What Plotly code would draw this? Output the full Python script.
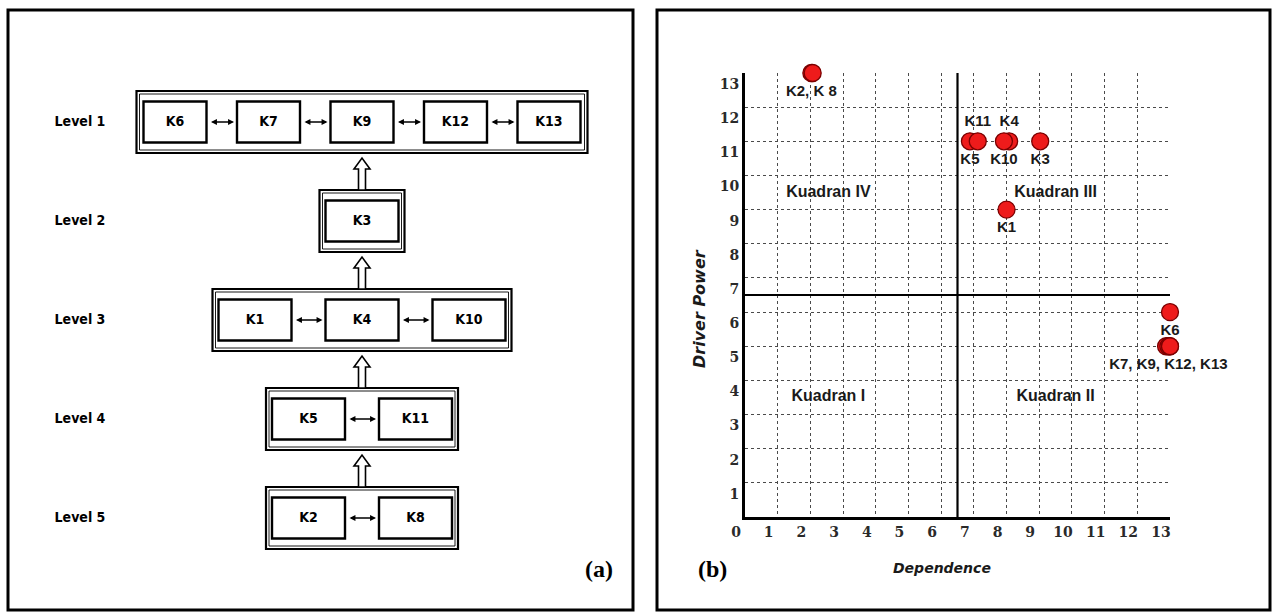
import plotly.graph_objects as go

# ---------------- data ----------------
levels = ["Level 1", "Level 2", "Level 3", "Level 4", "Level 5"]
level_members = [
    ["K6", "K7", "K9", "K12", "K13"],
    ["K3"],
    ["K1", "K4", "K10"],
    ["K5", "K11"],
    ["K2", "K8"],
]

criteria = ["K1", "K2", "K3", "K4", "K5", "K6", "K7", "K8", "K9", "K10", "K11", "K12", "K13"]
dependence = [8.0, 2.03, 9.03, 8.08, 6.88, 13.0, 12.88, 2.07, 12.95, 7.92, 7.12, 13.0, 13.0]
driver_power = [9, 13, 11, 11, 11, 6, 5, 13, 5, 11, 11, 5, 5]
point_text = ["K1", "K2, K 8", "K3", "K4", "K5", "K6", "", "", "K7, K9, K12, K13", "K10", "K11", "", ""]

quadrant_names = ["Kuadran IV", "Kuadran III", "Kuadran I", "Kuadran II"]
quadrant_dep = [2.55, 9.5, 2.55, 9.5]
quadrant_drv = [9.5, 9.5, 3.5, 3.5]
quadrant_split = 6.5

x_ticks = list(range(0, 14))
y_ticks = list(range(1, 14))

# ---------------- layout constants ----------------
W, H = 1273, 612
PX0, PX1 = 745, 1170      # x=0 and x=13 pixel
PY0, PY1 = 517, 73        # y=0 and y=13 pixel

NARROW = "Liberation Sans Narrow, DejaVu Sans Condensed, Liberation Sans, sans-serif"
SANS = "Liberation Sans, Arial, sans-serif"
SERIF = "Liberation Serif, Times New Roman, serif"

text_pos = {"K4": "top center", "K11": "top center"}
positions = [text_pos.get(c, "bottom center") for c in criteria]

fig = go.Figure()

# scatter (b)
fig.add_trace(go.Scatter(
    x=dependence, y=driver_power, mode="markers+text",
    text=point_text, textposition=positions,
    textfont=dict(family=SANS, size=15, color="#1a1a1a", weight="bold"),
    marker=dict(size=17, color="#ee1b1b", line=dict(color="#7a0000", width=1.3)),
    cliponaxis=False, showlegend=False, hoverinfo="skip",
    xaxis="x", yaxis="y",
))
fig.add_trace(go.Scatter(
    x=quadrant_dep, y=quadrant_drv, mode="text", text=quadrant_names,
    textfont=dict(family=SANS, size=16, color="#1a1a1a", weight="bold"),
    showlegend=False, hoverinfo="skip", xaxis="x", yaxis="y",
))

shapes = []
annotations = []

# quadrant lines
shapes.append(dict(type="line", xref="x", yref="y", x0=quadrant_split, x1=quadrant_split,
                   y0=0, y1=13, line=dict(color="black", width=2.2), layer="above"))
shapes.append(dict(type="line", xref="x", yref="y", x0=0, x1=13,
                   y0=quadrant_split, y1=quadrant_split, line=dict(color="black", width=2.2), layer="above"))

# ---------------- diagram (a) on pixel-scaled hidden axes ----------------
cx = 362
level_y0, level_step = 122, 99
box_h = 41
pady = 10.5
outer_boxes = []
lab_x, lab_y, lab_t = [], [], []
for i, members in enumerate(level_members):
    n = len(members)
    bw = 63 if n >= 5 else 73
    pitch = 93.5 if n >= 5 else 107
    padx = 7 if n >= 5 else 6
    cy = level_y0 + i * level_step
    centers = [cx + (j - (n - 1) / 2) * pitch for j in range(n)]
    for j, (c, m) in enumerate(zip(centers, members)):
        shapes.append(dict(type="rect", xref="x2", yref="y2", x0=c - bw / 2, x1=c + bw / 2,
                           y0=cy - box_h / 2, y1=cy + box_h / 2,
                           line=dict(color="black", width=2.4), layer="below"))
        lab_x.append(c); lab_y.append(cy); lab_t.append(m)
        if j < n - 1:
            annotations.append(dict(xref="x2", yref="y2", axref="x2", ayref="y2",
                                    x=centers[j + 1] - bw / 2 - 3, y=cy,
                                    ax=c + bw / 2 + 3, ay=cy, text="", showarrow=True,
                                    arrowside="end+start", arrowhead=2, arrowsize=0.7,
                                    arrowwidth=1.7, arrowcolor="black", standoff=0, startstandoff=0))
    ox0 = centers[0] - bw / 2 - padx
    ox1 = centers[-1] + bw / 2 + padx
    oy0 = cy - box_h / 2 - pady
    oy1 = cy + box_h / 2 + pady
    outer_boxes.append((ox0, ox1, oy0, oy1))
    shapes.append(dict(type="rect", xref="x2", yref="y2", x0=ox0, x1=ox1, y0=oy0, y1=oy1,
                       line=dict(color="black", width=2.2), layer="below"))
    shapes.append(dict(type="rect", xref="x2", yref="y2", x0=ox0 + 3, x1=ox1 - 3, y0=oy0 + 3, y1=oy1 - 3,
                       line=dict(color="black", width=0.9), layer="below"))
    lab_x.append(80); lab_y.append(cy); lab_t.append(levels[i])

# block arrows between levels
for i in range(len(outer_boxes) - 1):
    tip = outer_boxes[i][3] + 5
    base = outer_boxes[i + 1][2]
    hh = 11
    path = (f"M {cx-3.5},{base} L {cx-3.5},{tip+hh} L {cx-8},{tip+hh} L {cx},{tip} "
            f"L {cx+8},{tip+hh} L {cx+3.5},{tip+hh} L {cx+3.5},{base} Z")
    shapes.append(dict(type="path", xref="x2", yref="y2", path=path,
                       line=dict(color="black", width=1.6), fillcolor="white", layer="below"))

fig.add_trace(go.Scatter(
    x=lab_x, y=lab_y, mode="text", text=lab_t,
    textfont=dict(family=NARROW, size=14, color="black", weight="bold"),
    showlegend=False, hoverinfo="skip", xaxis="x2", yaxis="y2",
))

# panel frames
shapes.append(dict(type="rect", xref="x2", yref="y2", x0=8, x1=633, y0=10, y1=610,
                   line=dict(color="black", width=3)))
shapes.append(dict(type="rect", xref="x2", yref="y2", x0=657, x1=1270, y0=10, y1=610,
                   line=dict(color="black", width=3)))

# panel tags and axis titles
annotations.append(dict(xref="x2", yref="y2", x=599, y=569, text="(a)", showarrow=False,
                        font=dict(family=SERIF, size=24, color="black", weight="bold")))
annotations.append(dict(xref="x2", yref="y2", x=712, y=569, text="(b)", showarrow=False,
                        font=dict(family=SERIF, size=24, color="black", weight="bold")))
annotations.append(dict(xref="x2", yref="y2", x=942, y=568, text="Dependence", showarrow=False,
                        font=dict(family="DejaVu Sans", size=14, color="#1a1a1a", weight="bold", style="italic")))
annotations.append(dict(xref="x2", yref="y2", x=699, y=309, text="Driver Power", showarrow=False,
                        textangle=-90,
                        font=dict(family="DejaVu Sans", size=16, color="#1a1a1a", weight="bold", style="italic")))

tickfont = dict(family="DejaVu Serif", size=14, color="#2a2a2a", weight="bold")

fig.update_layout(
    width=W, height=H, autosize=False,
    margin=dict(l=0, r=0, t=0, b=0, pad=0, autoexpand=False),
    paper_bgcolor="white", plot_bgcolor="rgba(0,0,0,0)",
    showlegend=False,
    xaxis=dict(domain=[PX0 / W, PX1 / W], range=[0, 13], tickvals=x_ticks,
               showgrid=True, gridcolor="#4a4a4a", griddash="dot", gridwidth=1,
               zeroline=False, showline=True, linecolor="black", linewidth=3,
               ticks="", tickfont=tickfont, ticklabelshift=-9, fixedrange=True, anchor="y",
               automargin=False),
    yaxis=dict(domain=[(H - PY0) / H, (H - PY1) / H], range=[0, 13], tickvals=y_ticks,
               showgrid=True, gridcolor="#4a4a4a", griddash="dot", gridwidth=1,
               zeroline=False, showline=True, linecolor="black", linewidth=3,
               ticks="", tickfont=tickfont, ticklabelshift=11, fixedrange=True, anchor="x",
               automargin=False),
    xaxis2=dict(domain=[0, 1], range=[0, W], visible=False, anchor="y2", fixedrange=True,
                automargin=False),
    yaxis2=dict(domain=[0, 1], range=[H, 0], visible=False, anchor="x2", fixedrange=True,
                automargin=False),
    shapes=shapes,
    annotations=annotations,
)

fig.write_html("out.html", config={"displayModeBar": False},
               post_script="document.body.style.margin='0px';document.body.style.overflow='hidden';")
